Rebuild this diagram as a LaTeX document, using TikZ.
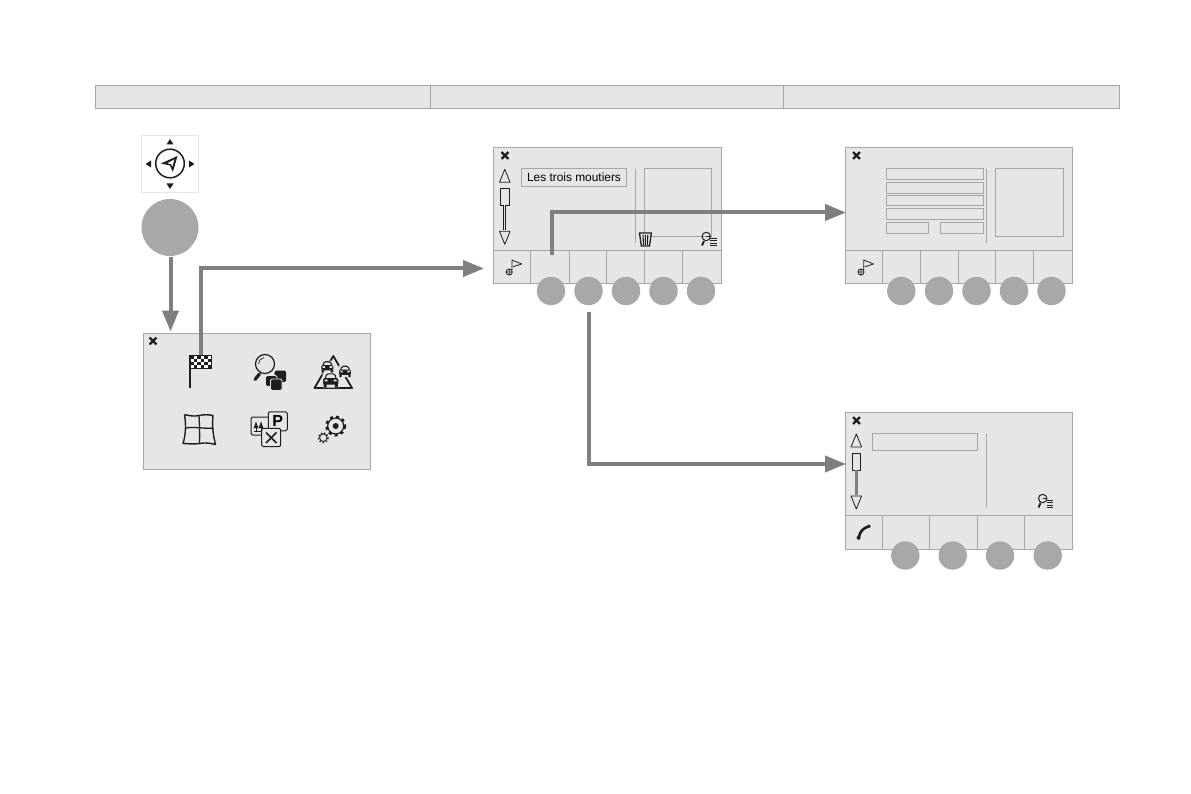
\documentclass[tikz,border=0pt]{standalone}
\usepackage{fontspec}
\setmainfont{Liberation Sans}
\usetikzlibrary{arrows.meta}
\definecolor{panel}{HTML}{E6E6E6}
\definecolor{edge}{HTML}{A6A6A6}
\definecolor{badgec}{HTML}{A9A7A8}
\definecolor{flow}{HTML}{7F7F7F}
\definecolor{ink}{HTML}{1E1E1E}
\tikzset{
  screen/.style={draw=edge,fill=panel,line width=.9pt},
  thin line/.style={draw=edge,line width=.9pt},
  inner box/.style={draw=edge,line width=.9pt},
  badge/.style={circle,fill=badgec,minimum size=28.4pt,inner sep=0pt},
  flowline/.style={draw=flow,line width=4pt,-{Triangle[length=21pt,width=16pt]}},
  icon/.style={draw=ink,line width=1pt,line join=round},
}
\newcommand{\closemark}[2]{\draw[ink,line width=2.4pt] (#1-3.4,#2-3.4)--(#1+3.4,#2+3.4) (#1-3.4,#2+3.4)--(#1+3.4,#2-3.4);}
\newcommand{\scrollbar}[3]{% x, top y, shaft style
  \begin{scope}[shift={(#1,#2)}]
    \draw[icon,line width=.8pt] (0,0)--(5.3,13)--(-5.3,13)--cycle;
    \draw[icon,line width=.8pt] (-4.2,19)rectangle(4.2,36);
    \draw[#3] (0,36)--(0,61);
    \draw[icon,line width=.8pt] (0,75)--(5.3,62)--(-5.3,62)--cycle;
  \end{scope}}
\newcommand{\flagsmall}[2]{%
  \begin{scope}[shift={(#1,#2)}]
    \draw[icon,line width=.8pt] (-2.5,4)circle(3.1) (-5.6,4)--(.6,4) (-2.5,.9)--(-2.5,7.1);
    \draw[icon,line width=.8pt] (.2,2)--(.2,-8)--(10,-4)--(1.5,-1.3);
  \end{scope}}
\newcommand{\searchlist}[2]{%
  \begin{scope}[shift={(#1,#2)}]
    \draw[icon,line width=1pt] (-2.8,-2.5)circle(4.2);
    \draw[ink,line width=1.9pt] (-5,2)--(-7,6.5);
    \draw[ink,line width=.9pt] (-3,-3)--(.5,-3) (1,-.8)--(7.5,-.8) (1,1.6)--(7.5,1.6) (1,4)--(7.5,4) (1,6.4)--(7.5,6.4);
  \end{scope}}
\begin{document}
\begin{tikzpicture}[x=1pt,y=-1pt]
\useasboundingbox[fill=white] (0,0) rectangle (1191,794);

% header bar
\node[screen,minimum width=1024pt,minimum height=23pt,inner sep=0pt,anchor=north west] (header) at (95,85) {};
\draw[thin line] (430,85)--(430,108) (783,85)--(783,108);

% compass
\node[draw=panel,line width=1.2pt,fill=white,minimum size=57pt,inner sep=0pt] (compass) at (170,164) {};
\draw[ink,line width=1.5pt] (170,163.5) circle (14.3);
\fill[ink,even odd rule] (161,163.5)--(177.5,156)--(172.8,172)--(170,165.5)--cycle (167,163.3)--(171,164.2)--(172.3,167)--(174.5,159.2)--cycle;
\fill[ink] (170,139)--(173.5,144.5)--(166.5,144.5)--cycle
 (170,189)--(173.5,183.5)--(166.5,183.5)--cycle
 (145.5,164)--(151,160.5)--(151,167.5)--cycle
 (194.5,164)--(189,160.5)--(189,167.5)--cycle;
\node[badge,minimum size=57pt] (main) at (170,227.5) {};

% menu panel
\node[screen,minimum width=227pt,minimum height=135.5pt,inner sep=0pt,anchor=north west] (menu) at (142.5,333) {};
\closemark{153}{341}
% chequered flag
\draw[ink,line width=1.2pt] (190,355)--(190,388);
\draw[ink,fill=white,line width=.8pt] (190,355.5) rectangle (211,368.5);
\foreach \i in {0,...,5}\foreach \j in {0,...,3}{
  \pgfmathparse{int(mod(\i+\j,2))}
  \ifnum\pgfmathresult=0 \fill[ink] (190+3.5*\i,355.5+3.25*\j) rectangle ++(3.5,3.25);\fi}
% search
\draw[icon,line width=1.2pt] (265,364) circle (9.5);
\draw[icon,line width=.7pt] (258.5,364) arc (180:260:6.5);
\draw[ink,line width=3.2pt,line cap=round] (259.5,374)--(255,379.5);
\fill[ink,rounded corners=1.5pt] (274.5,370.5) rectangle (286,382);
\draw[draw=panel,fill=ink,line width=.8pt,rounded corners=1.5pt] (265.5,375.5) rectangle (277,386.5);
\draw[draw=panel,fill=ink,line width=.8pt,rounded corners=1.5pt] (270.5,379) rectangle (282,390.5);
% traffic
\draw[ink,line width=1.8pt,line join=round] (333.3,356)--(352,388)--(314.5,388)--cycle;
\foreach \cx/\cy/\s in {327.3/367/.95,345/371.5/.95,330.7/380.5/1.2}{
  \begin{scope}[shift={(\cx,\cy)},scale=\s]
    \fill[panel,rounded corners=1pt] (-6.8,-6.5) rectangle (6.8,6);
    \draw[ink,line width=1.1pt,rounded corners=1.5pt] (-4.5,-1.5)--(-3.5,-5.5)--(3.5,-5.5)--(4.5,-1.5);
    \fill[ink,rounded corners=1.2pt] (-6.3,-2) rectangle (6.3,3.5);
    \fill[ink] (-6,3)rectangle(-3.5,6) (3.5,3)rectangle(6,6);
    \fill[panel] (-5,-.8)rectangle(-2.5,.8) (2.5,-.8)rectangle(5,.8);
  \end{scope}}
% map
\draw[icon,line width=1.4pt] (184.5,414.5)..controls (190,416) and (194,416.5) ..(199,415.5)..controls (204,414.5) and (208,414.5) ..(213,415.5)
 ..controls (212,425) and (213,435) .. (215.5,444.5)..controls (210,443) and (205,442.5) .. (199.5,443.5)..controls (194,444.5) and (188,443.5) .. (183,443.5)
 ..controls (186,434) and (186,424) .. (184.5,414.5);
\draw[icon,line width=1.3pt] (199,415.5)..controls (199.5,425) and (199.8,434) .. (199.5,443.5);
\draw[icon,line width=1.3pt] (185.5,428)..controls (195,426.5) and (205,429) .. (213.2,428);
% points of interest
\draw[icon,line width=1pt,fill=panel,rounded corners=2pt] (251,417) rectangle (270,435);
\draw[ink,line width=.7pt] (254,431)--(264,431) (256,431)--(256,424) (261,431)--(261,424);
\fill[ink] (256,421.5)--(258.3,428)--(253.7,428)--cycle (261,421.5)--(263.3,428)--(258.7,428)--cycle;
\node[draw=ink,line width=1pt,fill=panel,rounded corners=2pt,minimum size=19pt,inner sep=0pt,font=\bfseries\fontsize{16}{16}\selectfont] (parking) at (277.8,421.3) {P};
\draw[icon,line width=1pt,fill=panel,rounded corners=2pt] (261.7,428.3) rectangle (280.7,446.7);
\draw[ink,line width=1.7pt] (266,432.5)--(276.5,443) (276.5,432.5)--(266,443);
% gears
\draw[icon,line width=1.2pt] (335.7,426) circle (8);
\fill[ink] (335.7,426) circle (3);
\draw[ink,line width=2.4pt,dash pattern=on 3pt off 3.28pt] (335.7,426) circle (9.3);
\draw[icon,line width=.8pt] (323.3,437.7) circle (3.7);
\draw[ink,line width=1.3pt,dash pattern=on 1.6pt off 1.7pt] (323.3,437.7) circle (4.9);

% screen 2
\node[screen,minimum width=227.5pt,minimum height=136pt,inner sep=0pt,anchor=north west] (s2) at (493,147.5) {};
\draw[thin line] (493,250.5)--(720.5,250.5);
\foreach \x in {530.5,569.5,606.7,644.3,682.3}\draw[thin line] (\x,250.5)--(\x,283.5);
\closemark{505}{155.5}
\scrollbar{504.8}{169.3}{ink,line width=.7pt,double=panel,double distance=1.3pt}
\node[draw=edge,line width=.9pt,minimum width=105.4pt,minimum height=17.7pt,inner sep=0pt,font=\fontsize{11.9}{12}\selectfont] (name) at (574,177.2) {Les trois moutiers};
\draw[thin line] (635.3,169)--(635.3,243);
\draw[inner box] (644.3,168.5) rectangle (711.5,236.5);
\draw[ink,line width=1.3pt,fill=panel] (639.5,233) -- (651.3,233) -- (649.5,246) -- (641.3,246) -- cycle;
\draw[ink,line width=1.1pt] (643,235)--(643.5,245) (645.4,235)--(645.4,245) (647.8,235)--(647.3,245);
\searchlist{709}{239}
\flagsmall{511.7}{268}
\foreach \n/\x in {a/551,b/588.5,c/626,d/663.5,e/701}\node[badge] (s2\n) at (\x,291) {};

% screen 3
\node[screen,minimum width=226.4pt,minimum height=136pt,inner sep=0pt,anchor=north west] (s3) at (845.3,147.5) {};
\draw[thin line] (845.3,250.5)--(1071.7,250.5);
\foreach \x in {882.3,920.7,958.3,995.3,1033.7}\draw[thin line] (\x,250.5)--(\x,283.5);
\closemark{856.5}{155.5}
\foreach \t/\b in {168.3/179.7,182.3/193.7,195/205.7,208.3/219.3}\draw[inner box] (886.3,\t) rectangle (983.7,\b);
\draw[inner box] (886.3,222.3) rectangle (928.7,233.7);
\draw[inner box] (940.3,222.3) rectangle (983.7,233.7);
\draw[thin line] (986.3,169)--(986.3,242.7);
\draw[inner box] (995.3,168.3) rectangle (1063.7,236.7);
\flagsmall{863.5}{268}
\foreach \n/\x in {a/901.3,b/939,c/976.5,d/1014,e/1051.5}\node[badge] (s3\n) at (\x,291) {};

% screen 4
\node[screen,minimum width=226.4pt,minimum height=136.6pt,inner sep=0pt,anchor=north west] (s4) at (845.3,412.4) {};
\draw[thin line] (845.3,515.3)--(1071.7,515.3);
\foreach \x in {882.3,929.3,977.7,1024.7}\draw[thin line] (\x,515.3)--(\x,549.3);
\closemark{856.5}{420.5}
\scrollbar{856.3}{434}{draw=flow,line width=2.4pt}
\draw[inner box] (872.3,433.3) rectangle (977.7,450.7);
\draw[thin line] (986.3,434)--(986.3,507.7);
\searchlist{1045.5}{501}
\draw[ink,line width=2.6pt,line cap=round] (858.8,537)..controls (859.8,532) and (863,528) .. (868.5,526.5);
\fill[ink] (858.6,537.8) circle (2) (869,526.2) circle (1.8);
\foreach \n/\x in {a/905.3,b/952.7,c/1000,d/1047.7}\node[badge] (s4\n) at (\x,555.5) {};

% connectors
\coordinate (c1a) at (170.5,257.5);
\coordinate (c1b) at (170.5,331.5);
\coordinate (c2a) at (200.5,354.5);
\coordinate (c2b) at (484,268.5);
\coordinate (c3a) at (551.5,255.5);
\coordinate (c3b) at (846,212.5);
\coordinate (c4a) at (588.5,312);
\coordinate (c4b) at (846,464);
\draw[flowline] (c1a)--(c1b);
\draw[flowline] (c2a)|-(c2b);
\draw[flowline] (c3a)|-(c3b);
\draw[flowline] (c4a)|-(c4b);
\end{tikzpicture}
\end{document}
